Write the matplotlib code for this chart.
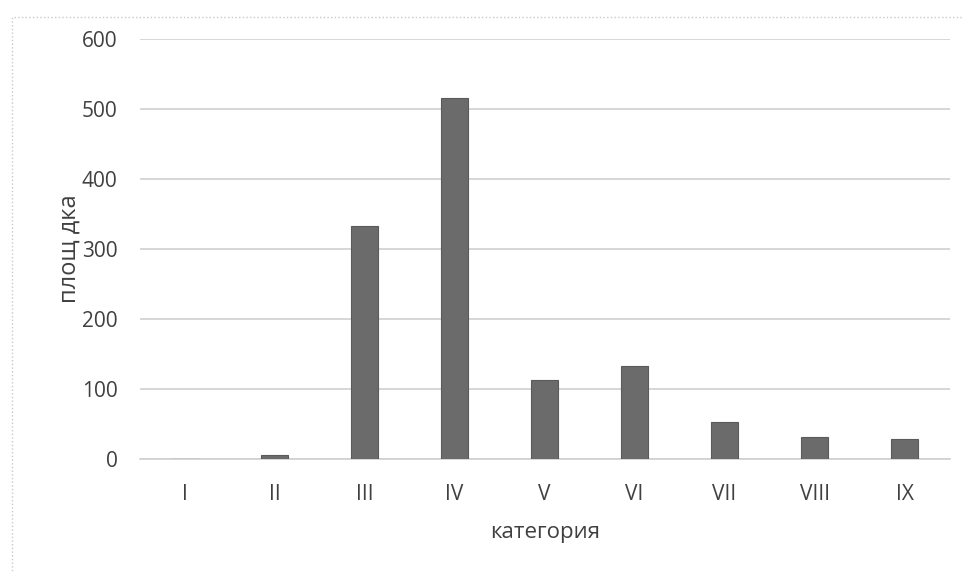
import matplotlib
matplotlib.use("Agg")
import matplotlib.pyplot as plt
from matplotlib.patches import Rectangle

# Данни
kategorii = ["I", "II", "III", "IV", "V", "VI", "VII", "VIII", "IX"]
plosht = [0, 5, 333, 515, 113, 133, 53, 32, 29]

plt.rcParams["font.family"] = ["Open Sans", "DejaVu Sans"]

fig = plt.figure(figsize=(9.64, 5.72), dpi=100)
ax = fig.add_axes([0.145, 0.1976, 0.84, 0.735])

x = range(len(kategorii))
ax.bar(x, plosht, width=0.3, color="#6b6b6b", edgecolor="#5a5a5a", linewidth=0.8, zorder=3)

ax.set_xlim(-0.5, len(kategorii) - 0.5)
ax.set_ylim(0, 600)
ax.set_yticks(range(0, 601, 100))
ax.set_xticks(list(x))
ax.set_xticklabels(kategorii)
ax.grid(axis="y", color="#d0d0d0", linewidth=1.2, zorder=0)
for s in ["top", "right", "left"]:
    ax.spines[s].set_visible(False)
ax.spines["bottom"].set_color("#d0d0d0")
ax.spines["bottom"].set_linewidth(1.2)
ax.tick_params(axis="both", length=0, labelsize=15, colors="#404040")
ax.tick_params(axis="x", pad=18)
ax.tick_params(axis="y", pad=16)

ax.set_xlabel("категория", fontsize=16, color="#404040", labelpad=12)
ax.set_ylabel("площ дка", fontsize=17, color="#404040", labelpad=0)

# рамка на диаграмата (сканирана)
fig.patches.append(Rectangle((12 / 964, -0.05), 1.0, 1 - 17 / 572 + 0.05,
                             transform=fig.transFigure, fill=False,
                             edgecolor="#c8c8c8", linewidth=1.0, linestyle=":"))

fig.savefig("out.png", dpi=100)
plt.close(fig)
